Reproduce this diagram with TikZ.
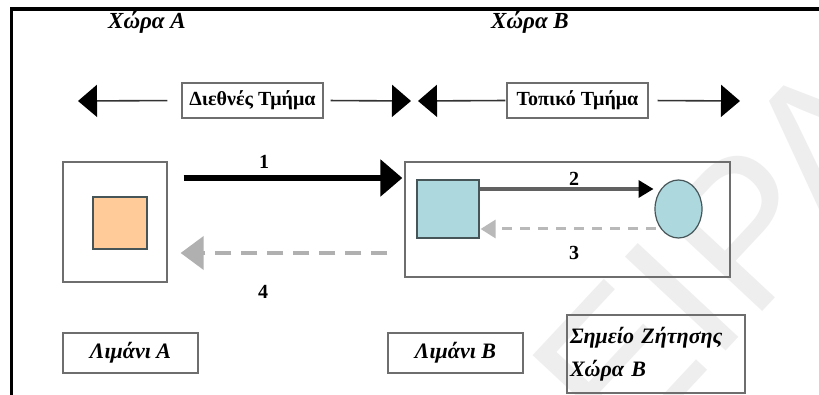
\documentclass[tikz,border=0pt]{standalone}
\usepackage{fontspec}
\setmainfont{Liberation Serif}
\newfontfamily\wmfont{Liberation Sans}
\usetikzlibrary{arrows.meta,shapes.geometric}

\definecolor{portorange}{RGB}{255,204,153}
\definecolor{localcyan}{RGB}{172,216,222}
\definecolor{edgegray}{RGB}{110,110,110}
\definecolor{shapeedge}{RGB}{70,85,88}

\tikzset{
  frame/.style={draw=edgegray, line width=1.3pt, inner sep=0pt},
  tagbox/.style={draw=edgegray, line width=1.3pt, inner sep=0pt,
    font=\fontsize{22}{33}\selectfont\bfseries\itshape},
  sectbox/.style={draw=edgegray, line width=1.3pt, inner sep=0pt,
    minimum width=141pt, minimum height=35pt,
    font=\fontsize{20}{22}\selectfont\bfseries},
  country/.style={font=\fontsize{23}{25}\selectfont\bfseries\itshape, inner sep=0pt},
  steplabel/.style={font=\fontsize{20}{22}\selectfont\bfseries, inner sep=0pt},
  span/.style={draw=black!80, line width=1.6pt,
    -{Triangle[length=19pt,width=32pt,color=black]}},
  flowmain/.style={draw=black, line width=6pt,
    -{Triangle[length=22pt,width=36pt]}},
  flowlocal/.style={draw=black!62, line width=3.5pt,
    -{Triangle[length=15pt,width=17pt,color=black]}},
  backlocal/.style={draw=gray!55, line width=3pt, dash pattern=on 10pt off 8pt,
    -{Triangle[length=15pt,width=18pt]}},
  backmain/.style={draw=gray!62, line width=4pt, dash pattern=on 16pt off 10pt,
    -{Triangle[length=23pt,width=33pt]}},
}

\begin{document}
\begin{tikzpicture}[x=1pt,y=-1pt]
\useasboundingbox (0,0) rectangle (819,395);
\fill[white] (0,0) rectangle (819,395);

% faint diagonal watermark
\begin{scope}
  \clip (0,0) rectangle (819,395);
  \node[rotate=47, anchor=base west, inner sep=0pt, text=gray!13,
        font=\wmfont\fontsize{200}{200}\selectfont] (wm) at (622,462) {ΕΙΡΑ};
\end{scope}

% page rules on the top and left
\draw[line width=3.5pt] (11.5,395) -- (11.5,9) -- (819,9);

% country headings
\node[country] (hA) at (147,22) {Χώρα Α};
\node[country] (hB) at (530,22) {Χώρα Β};

% section spans
\node[sectbox] (intl) at (252.5,100.5) {Διεθνές Τμήμα};
\node[sectbox] (local) at (577.5,100.5) {Τοπικό Τμήμα};
\coordinate (spanL) at (78,101);
\coordinate (spanM1) at (411,101);
\coordinate (spanM2) at (418,101);
\coordinate (spanR) at (740,101);
\draw[span, shorten <=14pt] (intl.west) -- (spanL);
\draw[span, shorten <=7pt] (intl.east) -- (spanM1);
\draw[span, shorten <=1pt] (local.west) -- (spanM2);
\draw[span, shorten <=9pt] (local.east) -- (spanR);

% port A with its store
\node[frame, minimum width=104pt, minimum height=120pt] (boxA) at (115,222) {};
\node[draw=shapeedge, line width=1.2pt, fill=portorange,
      minimum width=54pt, minimum height=52pt, inner sep=0pt] (storeA) at (120,223) {};

% port B with local distribution
\node[frame, minimum width=325pt, minimum height=115pt] (boxB) at (567.5,219.5) {};
\node[draw=shapeedge, line width=1.2pt, fill=localcyan,
      minimum width=62pt, minimum height=58pt, inner sep=0pt] (storeB) at (448,209) {};
\node[ellipse, draw=shapeedge, line width=1.2pt, fill=localcyan,
      minimum width=47pt, minimum height=58pt, inner sep=0pt] (demand) at (678.5,209) {};

% flows
\draw[flowmain] ([xshift=16pt,yshift=44pt]boxA.east) -- ([xshift=-2pt,yshift=41.5pt]boxB.west);
\draw[flowlocal] ([yshift=20pt]storeB.east) -- ([xshift=-25pt,yshift=20pt]demand.center);
\draw[backlocal] ([xshift=-23pt,yshift=-20pt]demand.center) -- ([xshift=1pt,yshift=-20pt]storeB.east);
\draw[backmain] ([xshift=-17pt,yshift=-33.5pt]boxB.west) -- ([xshift=13pt,yshift=-31pt]boxA.east);

\node[steplabel] (n1) at (264,162) {1};
\node[steplabel] (n2) at (574,179) {2};
\node[steplabel] (n3) at (574,253) {3};
\node[steplabel] (n4) at (263,292) {4};

% bottom tags
\node[tagbox, minimum width=135pt, minimum height=40pt] (portA) at (130.5,353) {Λιμάνι Α};
\node[tagbox, minimum width=135pt, minimum height=40pt] (portB) at (455.5,353) {Λιμάνι Β};
\node[tagbox, minimum width=178pt, minimum height=78pt, text width=172pt,
      align=left] (point) at (656,354) {Σημείο Ζήτησης\\Χώρα Β};
\end{tikzpicture}
\end{document}
